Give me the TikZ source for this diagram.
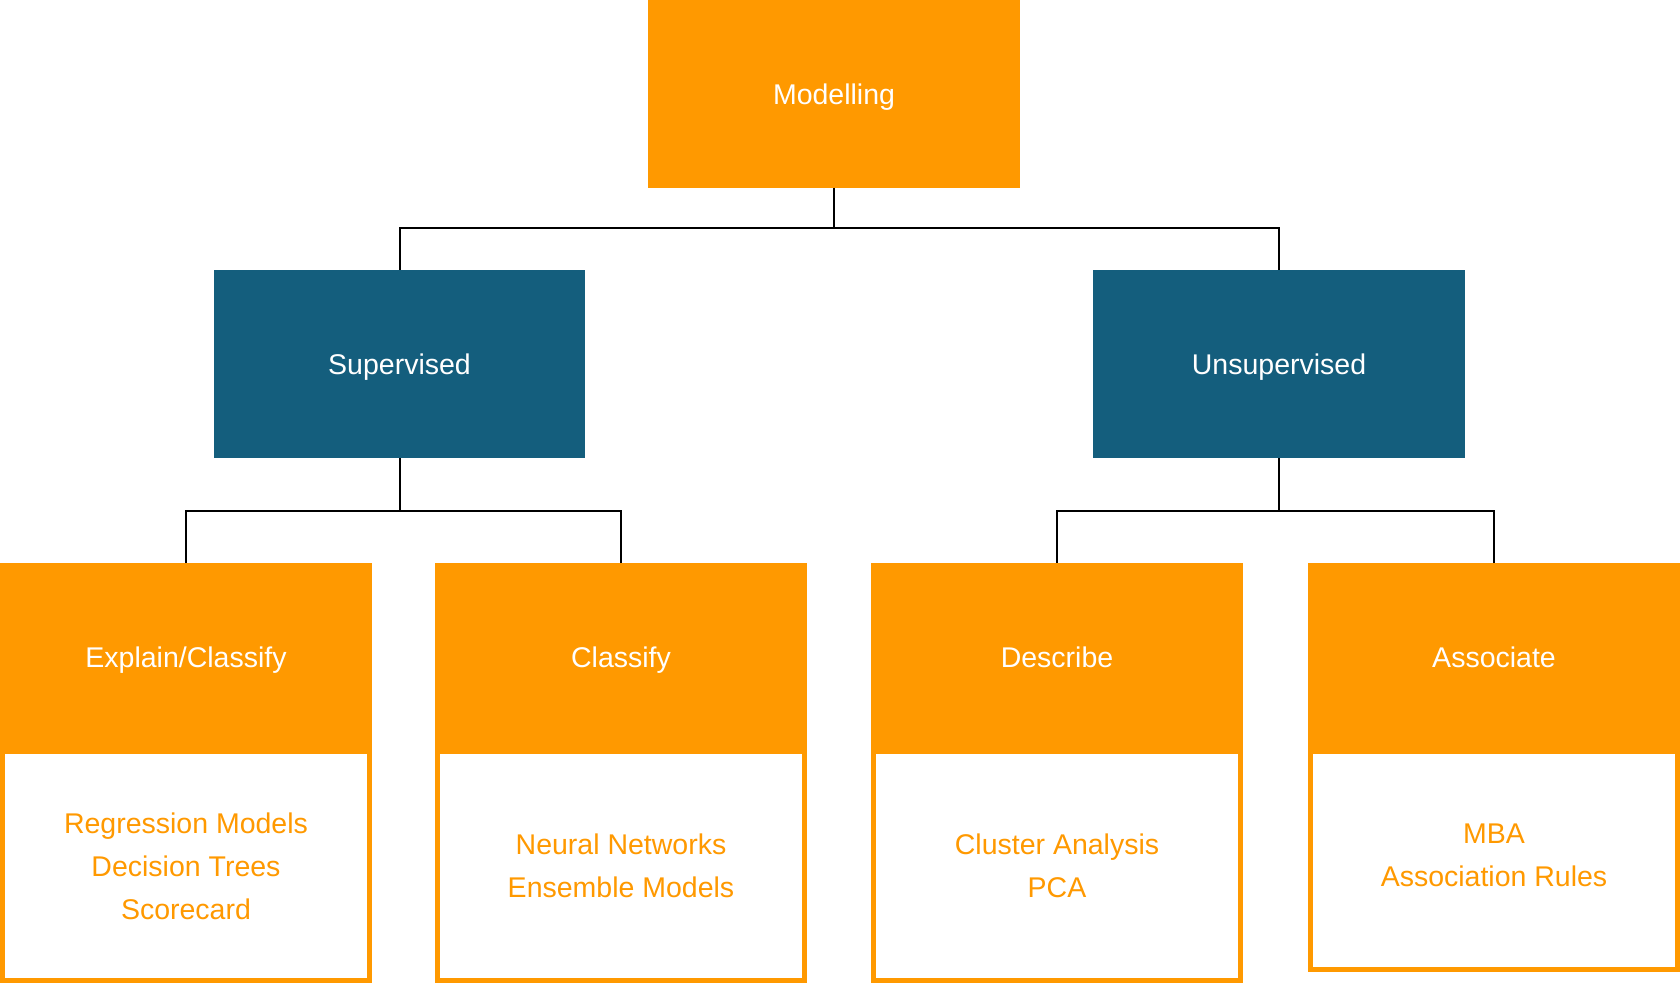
\documentclass[tikz,border=0pt]{standalone}
\usepackage{fontspec}
\setmainfont{Liberation Sans}
\usetikzlibrary{positioning}
\definecolor{mango}{HTML}{FF9900}
\definecolor{petrol}{HTML}{145E7D}
\tikzstyle{head}   = [rectangle, fill=mango, text=white, minimum width=371.5pt, minimum height=188pt, inner sep=0pt, outer sep=0pt, text height=25pt, text depth=4.5pt]
\tikzstyle{group}  = [head, fill=petrol]
\tikzstyle{detail} = [rectangle, draw=mango, line width=4.5pt, fill=white, text=mango, align=center, minimum width=367pt, minimum height=229.4pt, inner sep=0pt, outer sep=0pt]
\tikzstyle{link}   = [draw=black, line width=2pt]

\begin{document}
\begin{tikzpicture}[x=1pt, y=-1pt, font=\fontsize{28.5}{43}\selectfont]
\useasboundingbox (0,0) rectangle (1680,983);
\node[head]  (model) at (834,93.75) {Modelling};
\node[group] (sup)   at (399.5,364) {Supervised};
\node[group] (unsup) at (1279,364) {Unsupervised};

\node[head] (expl)  at (186,657.3)  {Explain/Classify};
\node[head] (class) at (621,657.3)  {Classify};
\node[head] (descr) at (1057,657.3) {Describe};
\node[head] (assoc) at (1494,657.3) {Associate};

\node[detail, below=0pt of expl]  (explm)  {Regression Models\\Decision Trees\\Scorecard};
\node[detail, below=0pt of class] (classm) {Neural Networks\\Ensemble Models};
\node[detail, below=0pt of descr] (descrm) {Cluster Analysis\\PCA};
\node[detail, below=0pt of assoc, minimum height=218.4pt, text depth=10.8pt] (assocm) {MBA\\Association Rules};

\draw[link] (model.south) -- ++(0,40.5) -| (sup.north);
\draw[link] (model.south) -- ++(0,40.5) -| (unsup.north);
\draw[link] (sup.south) -- ++(0,53) -| (expl.north);
\draw[link] (sup.south) -- ++(0,53) -| (class.north);
\draw[link] (unsup.south) -- ++(0,53) -| (descr.north);
\draw[link] (unsup.south) -- ++(0,53) -| (assoc.north);
\end{tikzpicture}
\end{document}
